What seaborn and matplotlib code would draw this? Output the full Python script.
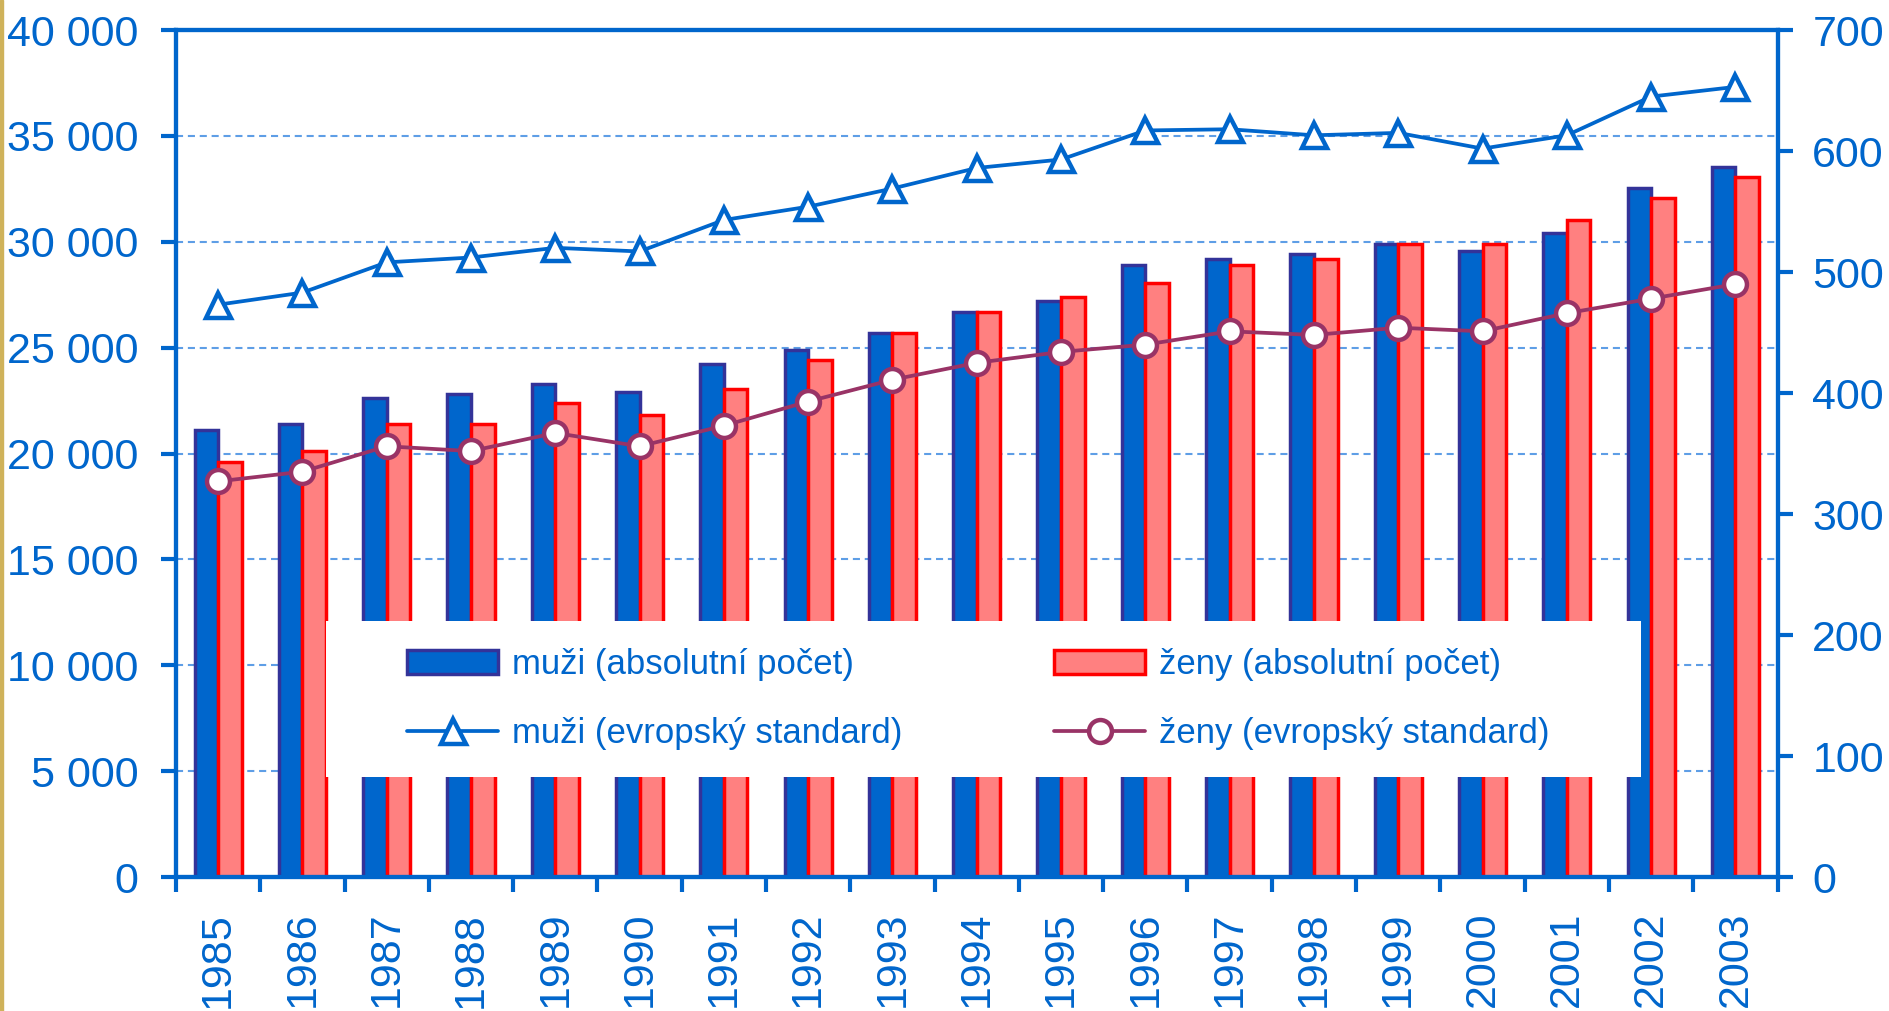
import matplotlib
matplotlib.use("Agg")
import numpy as np
import pandas as pd
import matplotlib.pyplot as plt
import seaborn as sns
from matplotlib.patches import Rectangle
from matplotlib.font_manager import FontProperties

# Data
roky = [str(r) for r in range(1985, 2004)]
muzi_abs = [21100, 21400, 22600, 22800, 23300, 22900, 24250, 24900, 25700, 26700,
            27200, 28900, 29200, 29400, 29900, 29550, 30400, 32550, 33550]
zeny_abs = [19600, 20100, 21400, 21400, 22400, 21800, 23050, 24400, 25700, 26700,
            27400, 28050, 28900, 29200, 29900, 29900, 31050, 32050, 33050]
muzi_std = [473, 483, 508, 512, 520, 517, 543, 554, 569, 586,
            593, 617, 618, 613, 615, 602, 613, 645, 653]
zeny_std = [327, 335, 356, 352, 367, 356, 373, 393, 411, 425,
            434, 440, 451, 448, 454, 451, 466, 478, 490]
popisky = ["muži (absolutní počet)", "muži (evropský standard)",
           "ženy (absolutní počet)", "ženy (evropský standard)"]

MODRA = "#0066CC"
FIALOVA = "#993366"

sns.set_style("white")
plt.rcParams["font.family"] = ["Liberation Sans", "DejaVu Sans"]

df = pd.DataFrame({
    "rok": roky * 2,
    "pocet": muzi_abs + zeny_abs,
    "pohlavi": ["muži"] * len(roky) + ["ženy"] * len(roky),
})

fig, ax1 = plt.subplots(figsize=(18.9, 10.11), dpi=100)
fig.subplots_adjust(left=0.0931, right=0.9405, bottom=0.1325, top=0.9703)

# sloupce - absolutni pocet
sns.barplot(data=df, x="rok", y="pocet", hue="pohlavi", hue_order=["muži", "ženy"],
            palette={"muži": MODRA, "ženy": "#FF8080"}, width=0.56,
            saturation=1, legend=False, ax=ax1)
for cont, edge in zip(ax1.containers, ["#333399", "#FF0000"]):
    for bar in cont:
        bar.set_edgecolor(edge)
        bar.set_linewidth(2.5)

ax1.set_ylim(0, 40000)
ax1.set_yticks(range(0, 40001, 5000))
ax1.set_yticklabels([f"{v:,}".replace(",", " ") for v in range(0, 40001, 5000)])
ax1.yaxis.grid(True, color="#5E9EE6", linestyle=(0, (3.4, 2.3)), linewidth=1.5)
ax1.xaxis.grid(False)
ax1.set_axisbelow(True)

# linie - evropsky standard (prava osa)
ax2 = ax1.twinx()
x = np.arange(len(roky))
sns.lineplot(x=x, y=muzi_std, ax=ax2, color=MODRA, linewidth=2.7, marker="^",
             markersize=18, markerfacecolor="white", markeredgecolor=MODRA,
             markeredgewidth=3.2)
sns.lineplot(x=x, y=zeny_std, ax=ax2, color=FIALOVA, linewidth=2.7, marker="o",
             markersize=16.5, markerfacecolor="white", markeredgecolor=FIALOVA,
             markeredgewidth=3.2)
ax2.set_ylim(0, 700)
ax2.set_yticks(range(0, 701, 100))

ax1.set_xlim(-0.5, len(roky) - 0.5)
ax1.set_xticks(x)
ax1.set_xticklabels(roky, rotation=90)
ax1.set_xticks(np.arange(-0.5, len(roky), 1), minor=True)

ax1.tick_params(axis="y", left=True, colors=MODRA, labelsize=31, length=11,
                width=3, pad=16, direction="out")
ax1.tick_params(axis="x", which="major", bottom=True, length=0, labelsize=31,
                labelcolor=MODRA, pad=25)
ax1.tick_params(axis="x", which="minor", bottom=True, length=11, width=3,
                color=MODRA, direction="out")
ax2.tick_params(axis="y", right=True, colors=MODRA, labelsize=31, length=11,
                width=3, pad=14, direction="out")

for ax in (ax1, ax2):
    ax.set_xlabel("")
    ax.set_ylabel("")
    for s in ax.spines.values():
        s.set_visible(True)
        s.set_color(MODRA)
        s.set_linewidth(3)

# legenda na bilem podkladu
ax2.add_patch(Rectangle((0.0937, 0.118), 0.8213, 0.184, transform=ax2.transAxes,
                        facecolor="white", edgecolor="none", zorder=4))

leg_size = 25
fs_px = leg_size * 100 / 72
handles = [ax1.containers[0], ax2.lines[0], ax1.containers[1], ax2.lines[1]]
leg = ax2.legend(handles, popisky, ncol=2, loc="center left",
                 bbox_to_anchor=((407 - 176) / 1601, 0.21), frameon=False,
                 prop=FontProperties(family="Liberation Sans", size=leg_size),
                 labelcolor=MODRA, handlelength=91 / fs_px,
                 handletextpad=14 / fs_px, columnspacing=152 / fs_px,
                 labelspacing=(75 - 1.117 * fs_px) / fs_px,
                 borderpad=0, borderaxespad=0, numpoints=1)
leg.set_zorder(5)

# zlaty prouzek vlevo
fig.add_artist(Rectangle((0, 0), 3 / 1890, 1, transform=fig.transFigure,
                         color="#CFB25A", zorder=0))

fig.savefig("out.png", dpi=100)
